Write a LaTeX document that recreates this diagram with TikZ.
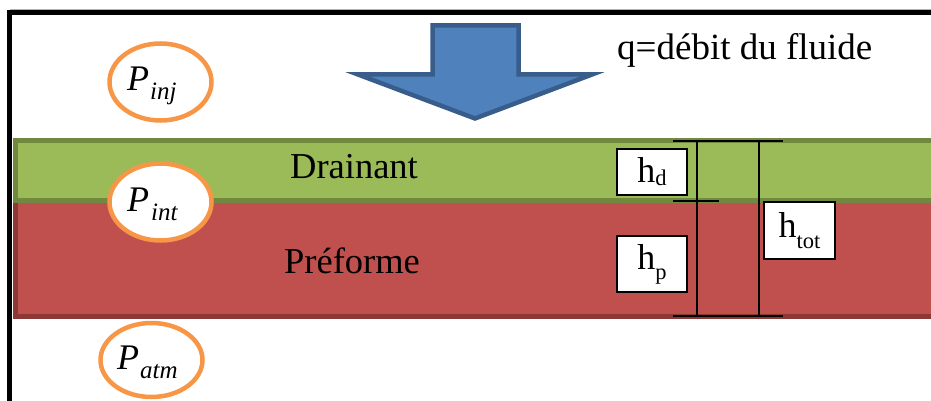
\documentclass[tikz,border=0pt]{standalone}
\usepackage{fontspec}
\setmainfont{Liberation Serif}
\usetikzlibrary{shapes.geometric}
\definecolor{frameblack}{HTML}{000000}
\definecolor{drfill}{HTML}{9BBB59}
\definecolor{drline}{HTML}{71893F}
\definecolor{prfill}{HTML}{C0504D}
\definecolor{prline}{HTML}{8C3836}
\definecolor{arfill}{HTML}{4F81BD}
\definecolor{arline}{HTML}{385D8A}
\definecolor{ellorange}{HTML}{F79646}
\tikzset{
  pbubble/.style={ellipse, draw=ellorange, line width=4.5pt, fill=white, inner sep=0pt},
  ptext/.style={anchor=base west, inner sep=0pt, font=\fontsize{36}{40}\selectfont\itshape},
  layertext/.style={anchor=base, inner sep=0pt, font=\fontsize{36.5}{40}\selectfont},
  hbox/.style={draw=black, line width=1.4pt, fill=white, inner sep=0pt, font=\fontsize{36}{40}\selectfont},
  dimline/.style={line width=2pt, draw=black},
}
\newcommand{\psub}[1]{\raisebox{-9pt}{\fontsize{25}{28}\selectfont\itshape #1}}
\newcommand{\hsub}[2]{\raisebox{-#2}{\fontsize{22.5}{26}\selectfont #1}}
\begin{document}
\begin{tikzpicture}[x=1pt,y=-1pt]
\useasboundingbox (0,0) rectangle (931,401);
\clip (0,0) rectangle (931,401);
% frame
\draw[gray!60, line width=1pt] (10,9.3) -- (940,9.3);
\draw[frameblack, line width=5pt] (9.8,410) -- (9.8,12.5) -- (940,12.5);
% layers
\draw[prline, fill=prfill, line width=5pt] (15.5,200.5) rectangle (945,316);
\draw[drline, fill=drfill, line width=5pt] (15.5,140.5) rectangle (945,200.5);
% arrow
\draw[arline, fill=arfill, line width=4.5pt, line join=miter]
  (432.5,25.5) -- (518.5,25.5) -- (518.5,74.5) -- (592,74.5) -- (475,118.5) -- (358,74.5) -- (432.5,74.5) -- cycle;
\node[anchor=base west, inner sep=0pt, font=\fontsize{37}{40}\selectfont] (q) at (617,60) {q=débit du fluide};
% layer labels
\node[layertext] (drainant) at (354,178) {Drainant};
\node[layertext] (preforme) at (352,273) {Préforme};
% pressure bubbles
\node[pbubble, minimum width=102pt, minimum height=77pt] (pinj) at (160.5,82) {};
\node[pbubble, minimum width=102pt, minimum height=77pt] (pint) at (160.5,202) {};
\node[pbubble, minimum width=102pt, minimum height=74pt] (patm) at (151.5,360) {};
\node[ptext] (tinj) at (127,91) {P\kern1pt\psub{inj}};
\node[ptext] (tint) at (127,211) {P\kern2pt\psub{int}};
\node[ptext] (tatm) at (117,369) {P\kern1pt\psub{atm}};
% height boxes
\node[hbox, minimum width=70pt, minimum height=46pt] (hd) at (652,172) {h\hsub{d}{3pt}};
\node[hbox, minimum width=70pt, minimum height=56pt] (hp) at (652,264) {h\hsub{p}{10pt}};
\node[hbox, minimum width=71pt, minimum height=57pt] (htot) at (799.5,230.5) {h\hsub{tot}{11pt}};
% dimension lines
\coordinate (t1) at (673,141);
\coordinate (t2) at (783,141);
\coordinate (m1) at (673,201);
\coordinate (m2) at (719,201);
\coordinate (b1) at (673,316);
\coordinate (b2) at (783,316);
\coordinate (v1t) at (697,141);
\coordinate (v1b) at (697,316);
\coordinate (v2t) at (759,141);
\coordinate (v2b) at (759,316);
\draw[dimline] (t1) -- (t2);
\draw[dimline] (m1) -- (m2);
\draw[dimline] (b1) -- (b2);
\draw[dimline] (v1t) -- (v1b);
\draw[dimline] (v2t) -- (v2b);
\end{tikzpicture}
\end{document}
